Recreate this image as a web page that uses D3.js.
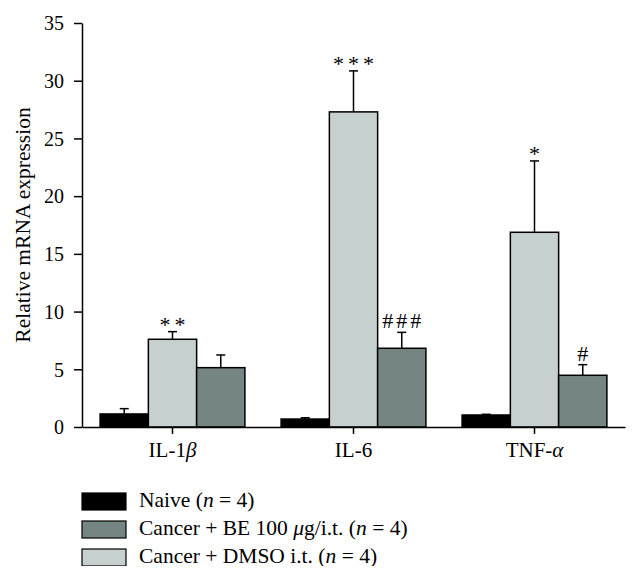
<!DOCTYPE html>
<html><head><meta charset="utf-8">
<script src="https://cdn.jsdelivr.net/npm/d3@7"></script>
<style>body{margin:0;background:#fff}svg{display:block}text{font-family:"Liberation Serif","Times New Roman",serif;fill:#000}</style>
</head><body><svg id="c" width="639" height="580"></svg>
<script>
const categories = ["IL-1β", "IL-6", "TNF-α"];
const groupOrder = ["naive", "dmso", "be"];
const naiveMean = [1.13, 0.69, 1.04];
const naiveErr  = [0.46, 0.11, 0.06];
const dmsoMean  = [7.6, 27.3, 16.87];
const dmsoErr   = [0.66, 3.55, 6.18];
const beMean    = [5.14, 6.82, 4.48];
const beErr     = [1.1, 1.38, 0.92];
const dmsoMarks = ["**", "***", "*"];
const beMarks   = ["", "###", "#"];
const yTicks = [0, 5, 10, 15, 20, 25, 30, 35];
const colors = {naive: "#000000", be: "#748583", dmso: "#c6d0cf"};
const legendItems = [
  {key: "naive", parts: [["Naive (", false], ["n", true], [" = 4)", false]]},
  {key: "be", parts: [["Cancer + BE 100 ", false], ["μ", true], ["g/i.t. (", false], ["n", true], [" = 4)", false]]},
  {key: "dmso", parts: [["Cancer + DMSO i.t. (", false], ["n", true], [" = 4)", false]]}
];

const series = {
  naive: {mean: naiveMean, err: naiveErr, marks: ["", "", ""]},
  dmso: {mean: dmsoMean, err: dmsoErr, marks: dmsoMarks},
  be: {mean: beMean, err: beErr, marks: beMarks}
};

const svg = d3.select("#c");
const x0 = 82, x1 = 625, yBase = 427, yTop = 23;
const x = d3.scaleBand().domain(categories).range([x0, x1]).paddingInner(0.2).paddingOuter(0.1);
const xs = d3.scaleBand().domain(groupOrder).range([0, x.bandwidth()]);
const y = d3.scaleLinear().domain([0, 35]).range([yBase, yTop]);

// y axis
const ya = svg.append("g").attr("transform", `translate(${x0},0)`)
  .call(d3.axisLeft(y).tickValues(yTicks).tickSize(8).tickPadding(10).tickSizeOuter(0));
ya.select(".domain").attr("stroke", "#000").attr("stroke-width", 1.5);
ya.selectAll(".tick line").attr("stroke", "#000").attr("stroke-width", 1.5);
ya.selectAll(".tick text").attr("font-size", 20).attr("dy", "0.34em");

svg.append("text").attr("transform", `translate(30,${(yBase + yTop) / 2}) rotate(-90)`)
  .attr("text-anchor", "middle").attr("font-size", 21.5).text("Relative mRNA expression");

// bars
categories.forEach((c, i) => {
  groupOrder.forEach(k => {
    const s = series[k];
    const bx = x(c) + xs(k), bw = xs.bandwidth();
    const cx = bx + bw / 2;
    const top = y(s.mean[i]), etop = y(s.mean[i] + s.err[i]);
    svg.append("line").attr("x1", cx).attr("x2", cx).attr("y1", top).attr("y2", etop)
      .attr("stroke", "#000").attr("stroke-width", 1.5);
    svg.append("line").attr("x1", cx - 4.5).attr("x2", cx + 4.5).attr("y1", etop).attr("y2", etop)
      .attr("stroke", "#000").attr("stroke-width", 1.5);
    svg.append("rect").attr("x", bx).attr("y", top).attr("width", bw).attr("height", yBase - top)
      .attr("fill", colors[k]).attr("stroke", "#000").attr("stroke-width", 1.5);
    const m = s.marks[i];
    if (m) {
      const isStar = m[0] === "*";
      const ls = isStar ? 4 : 3;
      svg.append("text").attr("x", cx + ls / 2).attr("y", isStar ? etop : etop - 4)
        .attr("text-anchor", "middle").attr("font-size", 22)
        .attr("letter-spacing", ls)
        .text(m);
    }
  });
});

// x axis
const xa = svg.append("g").attr("transform", `translate(0,${yBase})`)
  .call(d3.axisBottom(x).tickSize(7).tickSizeOuter(0).tickFormat(""));
xa.select(".domain").attr("stroke", "#000").attr("stroke-width", 1.5);
xa.selectAll(".tick line").attr("stroke", "#000").attr("stroke-width", 1.5);
categories.forEach(c => {
  const t = svg.append("text").attr("x", x(c) + x.bandwidth() / 2).attr("y", 457)
    .attr("text-anchor", "middle").attr("font-size", 21);
  const base = c.slice(0, -1), greek = c.slice(-1);
  if (greek === "β" || greek === "α") {
    t.append("tspan").text(base);
    t.append("tspan").attr("font-style", "italic").text(greek);
  } else t.text(c);
});

// legend (clipped like the reference)
svg.append("clipPath").attr("id", "lc").append("rect").attr("x", 0).attr("y", 480).attr("width", 639).attr("height", 86);
const lg = svg.append("g").attr("clip-path", "url(#lc)");
legendItems.forEach((it, i) => {
  const ly = 493 + i * 28;
  lg.append("rect").attr("x", 82).attr("y", ly).attr("width", 44).attr("height", 17)
    .attr("fill", colors[it.key]).attr("stroke", "#000").attr("stroke-width", 1.2);
  const t = lg.append("text").attr("x", 139).attr("y", ly + 14).attr("font-size", 21.5);
  it.parts.forEach(p => t.append("tspan").attr("font-style", p[1] ? "italic" : "normal").text(p[0]));
});
</script></body></html>
